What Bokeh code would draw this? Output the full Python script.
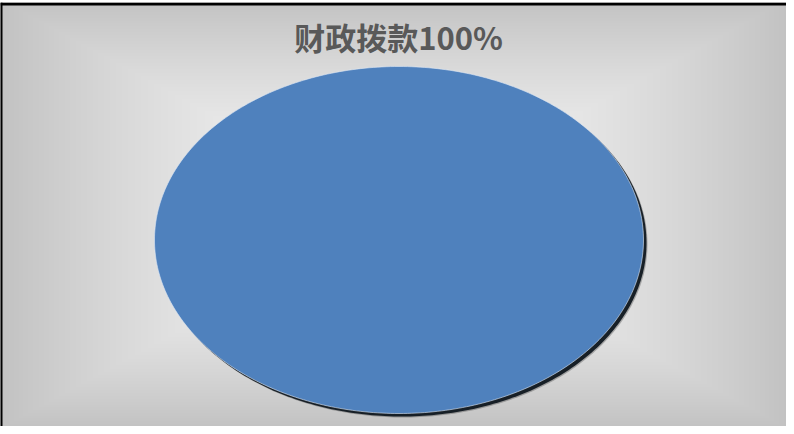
import numpy as np
from bokeh.plotting import figure
from bokeh.models import Range1d, Label, ColumnDataSource, Span
from bokeh.embed import file_html
from bokeh.resources import INLINE

# ---- data ----
categories = ["财政拨款"]
values = [100]
title_text = "财政拨款100%"
colors = ["#4F81BD"]

W, H = 786, 424
p = figure(width=W, height=H + 2, output_backend="svg", toolbar_location=None,
           x_range=Range1d(0, W), y_range=Range1d(0, H),
           min_border_left=0, min_border_right=0, min_border_bottom=0, min_border_top=2)
p.axis.visible = False
p.grid.visible = False
p.outline_line_color = None
p.background_fill_color = "#d9d9d9"
p.border_fill_color = "white"

# background gradient (rectangular, light centre -> grey edges)
cx_s, cy_s = 393.0, 212.0
yy, xx = np.mgrid[0:H, 0:W].astype(float)
t = np.maximum(np.abs(xx - cx_s) / 400.0, np.abs(yy - cy_s) / 218.0)
t = np.clip(t, 0, 1) ** 1.7
g = (243 - t * 50).astype(np.uint32)
img = np.empty((H, W), dtype=np.uint32)
view = img.view(dtype=np.uint8).reshape((H, W, 4))
view[:, :, 0] = g
view[:, :, 1] = g
view[:, :, 2] = g
view[:, :, 3] = 255
p.image_rgba(image=[img], x=0, y=0, dw=W, dh=H)

# chart border (only top and left are visible in the crop)
p.add_layout(Span(location=H - 1.5, dimension="width", line_color="black", line_width=3))
p.add_layout(Span(location=0.5, dimension="height", line_color="black", line_width=3))

# pie (elliptical because of the chart's aspect)
cx, cy = 398.5, 186.5
rx, ry = 244.5, 173.5
total = float(sum(values))
fr = np.cumsum([0.0] + [v / total for v in values])
xs, ys = [], []
for i in range(len(values)):
    a0 = np.pi / 2 - 2 * np.pi * fr[i]
    a1 = np.pi / 2 - 2 * np.pi * fr[i + 1]
    ang = np.linspace(a0, a1, 361)
    px = list(cx + rx * np.cos(ang))
    py = list(cy + ry * np.sin(ang))
    if fr[i + 1] - fr[i] < 0.9999:
        px = [cx] + px
        py = [cy] + py
    xs.append(px)
    ys.append(py)

src = ColumnDataSource(dict(xs=xs, ys=ys, cat=categories, val=values, color=colors))
sh = ColumnDataSource(dict(xs=[[x + 3 for x in a] for a in xs],
                           ys=[[y - 3 for y in a] for a in ys]))
sh2 = ColumnDataSource(dict(xs=[[x + 4 for x in a] for a in xs],
                            ys=[[y - 4 for y in a] for a in ys]))
p.patches("xs", "ys", source=sh2, fill_color="black", fill_alpha=0.25, line_color=None)
p.patches("xs", "ys", source=sh, fill_color="#101820", fill_alpha=0.95, line_color=None)
p.patches("xs", "ys", source=src, fill_color="color", line_color="#dde8f5", line_width=1, line_alpha=0.6)

p.add_layout(Label(x=398, y=H - 34, text=title_text, text_align="center", text_baseline="middle",
                   text_font="Noto Sans CJK SC", text_font_style="bold", text_font_size="31px",
                   text_color="#595959"))

open("out.html", "w").write(file_html(p, INLINE))
